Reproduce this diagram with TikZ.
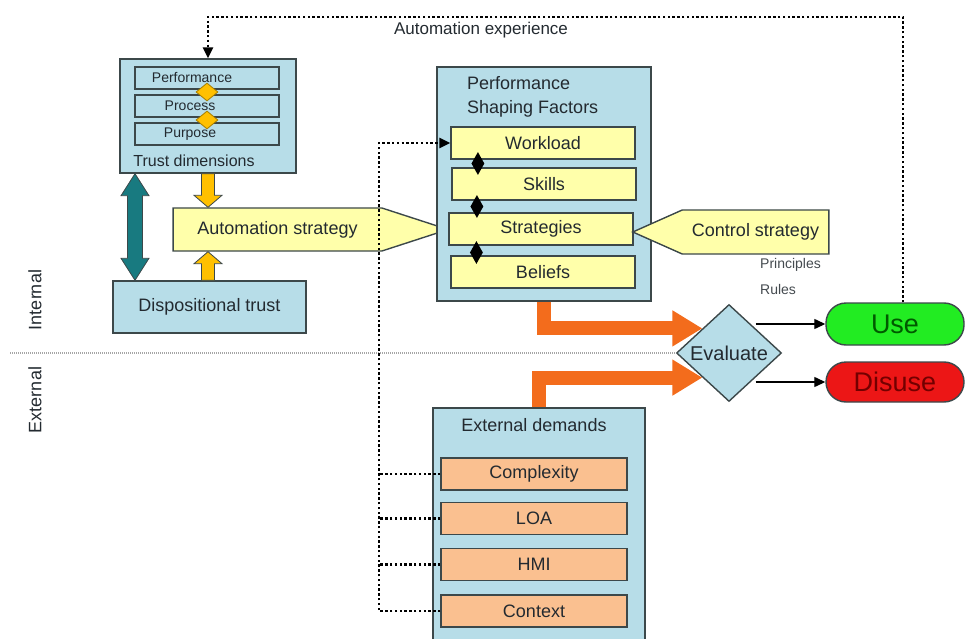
\documentclass[tikz,border=0pt]{standalone}
\usepackage{fontspec}
\setmainfont{Liberation Sans}
\usetikzlibrary{arrows.meta,calc,shapes.geometric,shapes.symbols}

\definecolor{boxblue}{RGB}{183,221,232}
\definecolor{boxline}{RGB}{60,72,74}
\definecolor{paleyellow}{RGB}{255,255,170}
\definecolor{peach}{RGB}{250,192,144}
\definecolor{gold}{RGB}{255,192,0}
\definecolor{tealdark}{RGB}{24,122,128}
\definecolor{flame}{RGB}{243,108,28}
\definecolor{usegreen}{RGB}{34,236,34}
\definecolor{disusered}{RGB}{236,22,22}
\definecolor{ink}{RGB}{35,42,48}

\begin{document}
\begin{tikzpicture}[x=1pt,y=-1pt,>={Triangle[length=11pt,width=10pt]},
	every node/.style={text=ink,inner sep=0pt},
	txt/.style={font=\fontsize{18}{21}\selectfont},
	panel/.style={draw=boxline,line width=1.4pt,fill=boxblue},
	dimbox/.style={draw=boxline,line width=1.2pt,fill=boxblue,minimum width=144pt,minimum height=22pt},
	factor/.style={draw=boxline,line width=1.2pt,fill=paleyellow,minimum width=184pt,minimum height=32pt,txt},
	demand/.style={draw=boxline,line width=1.2pt,fill=peach,minimum width=186pt,minimum height=32pt,txt},
	link/.style={diamond,draw=gold!65!black,line width=.8pt,fill=gold,minimum width=22pt,minimum height=18pt},
	knot/.style={diamond,fill=black,minimum width=13pt,minimum height=23pt},
	strat/.style={signal,draw=boxline,line width=1.4pt,fill=paleyellow,txt},
	note/.style={font=\fontsize{14}{16}\selectfont,text=ink!85,anchor=west},
	pill/.style={draw=boxline,line width=1.4pt,rounded corners=20pt,minimum width=138pt,font=\fontsize{27}{30}\selectfont},
	dots/.style={draw=black,line width=2.6pt,dash pattern=on 2.4pt off 2.4pt},
	pipe/.style={draw=flame,line width=14pt,-{Triangle[length=30pt,width=34pt]}},
	block/.style n args={3}{to path={let \p1=(\tikztostart),\p2=(\tikztotarget),\n1={atan2(\y2-\y1,\x2-\x1)} in
		($(\p1)+({\n1+90}:#1)$) -- ($(\p2)+({\n1+180}:#3)+({\n1+90}:#1)$) -- ($(\p2)+({\n1+180}:#3)+({\n1+90}:#2)$)
		-- (\p2) -- ($(\p2)+({\n1+180}:#3)+({\n1-90}:#2)$) -- ($(\p2)+({\n1+180}:#3)+({\n1-90}:#1)$)
		-- ($(\p1)+({\n1-90}:#1)$) -- cycle}},
	dblock/.style n args={3}{to path={let \p1=(\tikztostart),\p2=(\tikztotarget),\n1={atan2(\y2-\y1,\x2-\x1)} in
		(\p1) -- ($(\p1)+(\n1:#3)+({\n1+90}:#2)$) -- ($(\p1)+(\n1:#3)+({\n1+90}:#1)$)
		-- ($(\p2)+({\n1+180}:#3)+({\n1+90}:#1)$) -- ($(\p2)+({\n1+180}:#3)+({\n1+90}:#2)$) -- (\p2)
		-- ($(\p2)+({\n1+180}:#3)+({\n1-90}:#2)$) -- ($(\p2)+({\n1+180}:#3)+({\n1-90}:#1)$)
		-- ($(\p1)+(\n1:#3)+({\n1-90}:#1)$) -- ($(\p1)+(\n1:#3)+({\n1-90}:#2)$) -- cycle}}]
	\clip(0,0) rectangle (966,639);

	\node[panel,minimum width=176pt,minimum height=114pt] (trustdim) at (208,116) {};
	\node[dimbox] (perf) at (207,78) {};
	\node[dimbox] (proc) at (207,106) {};
	\node[dimbox] (purp) at (207,134) {};
	\node[font=\fontsize{14}{16}\selectfont] (perf-t) at (192,78) {Performance};
	\node[font=\fontsize{14}{16}\selectfont] (proc-t) at (190,106) {Process};
	\node[font=\fontsize{14}{16}\selectfont] (purp-t) at (190,134) {Purpose};
	\node[link] (link1) at ($(perf.south)!.5!(proc.north)$) {};
	\node[link] (link2) at ($(proc.south)!.5!(purp.north)$) {};
	\node[font=\fontsize{16}{18}\selectfont] (trustdim-t) at (194,161) {Trust dimensions};

	\node[panel,minimum width=193pt,minimum height=52pt,txt] (disp) at (209.5,307) {Dispositional trust};
	\node[strat,signal to=east,signal pointer angle=36,minimum width=275pt,minimum height=43pt] (autostrat) at (277.5,229.5) {Automation strategy};

	\node[panel,minimum width=214pt,minimum height=234pt] (psf) at (544,184) {};
	\node[txt,font=\fontsize{18}{24}\selectfont,align=left,anchor=north west] (psf-t) at (467,76) {Performance\\Shaping Factors};
	\node[factor] (workload) at (543,143) {Workload};
	\node[factor] (skills) at (544,184) {Skills};
	\node[factor] (strategies) at (541,229) {Strategies};
	\node[factor] (beliefs) at (543,272) {Beliefs};
	\node[knot] (knot1) at ($(workload.south west)!.5!(skills.north west)+(27,0)$) {};
	\node[knot] (knot2) at ($(skills.south west)!.5!(strategies.north west)+(27,0)$) {};
	\node[knot] (knot3) at ($(strategies.south west)!.5!(beliefs.north west)+(27,2)$) {};

	\node[strat,signal to=west,signal pointer angle=48,minimum width=196pt,minimum height=44pt] (ctrl) at (755.5,232) {Control strategy};
	\node[note] (princ) at (760,265) {Principles};
	\node[note] (rules) at (760,289) {Rules};

	\node[panel,minimum width=212pt,minimum height=240pt] (extdem) at (539,528) {};
	\node[txt] (extdem-t) at (534,425) {External demands};
	\node[demand] (complexity) at (534,474) {Complexity};
	\node[demand] (loa) at (534,518.5) {LOA};
	\node[demand] (hmi) at (534,564.5) {HMI};
	\node[demand] (context) at (534,611) {Context};

	\node[diamond,draw=boxline,line width=1.4pt,fill=boxblue,minimum width=105pt,minimum height=97pt,font=\fontsize{20}{22}\selectfont] (evaluate) at (729,353) {Evaluate};
	\node[pill,fill=usegreen,minimum height=42pt,text=green!35!black] (use) at (895,324) {Use};
	\node[pill,fill=disusered,minimum height=40pt,text=red!45!black] (disuse) at (895,382) {Disuse};

	\node[txt,rotate=90] (intl) at (35,300) {Internal};
	\node[txt,rotate=90] (extl) at (35,400) {External};
	\node[font=\fontsize{17}{20}\selectfont] (explabel) at (481,30) {Automation experience};

	\draw[gray!70,line width=1.2pt,dash pattern=on 1pt off 1pt] (evaluate.west -| 10,0) -- (evaluate.west);
	\coordinate (bus) at (379,0);
	\draw[dots,->] (context.west) -| (bus |- workload.west) -- (workload.west);
	\foreach \d in {complexity,loa,hmi}
		\draw[dots] (\d.west) -- (bus |- \d.west);
	\draw[dots,->] ($(use.north)+(8,0)$) |- (trustdim.north |- 0,17) -- (trustdim.north);

	\draw[dblock={7.5pt}{14pt}{22pt},fill=tealdark,draw=boxline,line width=.8pt] (trustdim.south -| 135,0) to (disp.north -| 135,0);
	\draw[block={6.5pt}{14pt}{12pt},fill=gold,draw=boxline,line width=.8pt] (trustdim.south) to (trustdim.south |- autostrat.north);
	\draw[block={6.5pt}{14pt}{12pt},fill=gold,draw=boxline,line width=.8pt] (trustdim.south |- disp.north) to (trustdim.south |- autostrat.south);

	\draw[pipe] (psf.south) |- (evaluate.north west);
	\draw[pipe] (extdem.north) |- (evaluate.south west);
	\draw[line width=1.3pt,->] (evaluate.north east |- use.west) -- (use.west);
	\draw[line width=1.3pt,->] (evaluate.south east |- disuse.west) -- (disuse.west);
\end{tikzpicture}
\end{document}
